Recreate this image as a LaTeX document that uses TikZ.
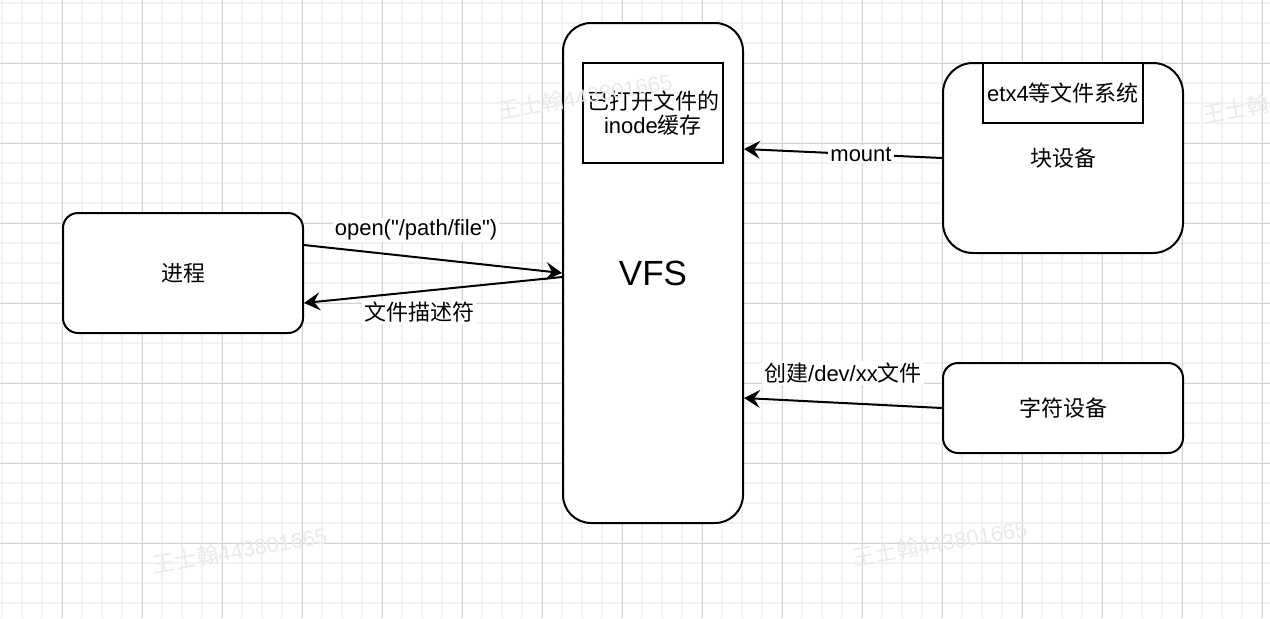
\documentclass[tikz,border=0pt]{standalone}
\usepackage{fontspec}
\setmainfont{Liberation Sans}[Ligatures=TeXOff]
\newfontfamily\cjk{Noto Sans CJK SC}
\usetikzlibrary{arrows.meta}
\definecolor{minorgrid}{HTML}{F2F2F2}
\definecolor{majorgrid}{HTML}{D2D2D2}
\definecolor{wmcolor}{HTML}{EAEAEA}
\begin{document}
\begin{tikzpicture}[x=0.5pt,y=-0.5pt,
  every node/.style={font=\fontsize{11pt}{12pt}\selectfont},
  rbox/.style={draw, line width=1pt, fill=white, inner sep=0pt, align=center},
  sbox/.style={draw, line width=1pt, fill=white, inner sep=0pt, align=center},
  arr/.style={line width=1pt, -{Stealth[length=8pt,width=9pt,inset=3pt]}},
  lbl/.style={fill=white, inner sep=1pt},
  wm/.style={text=wmcolor, rotate=10, font=\fontsize{11pt}{12pt}\selectfont}]
\useasboundingbox (0,0) rectangle (1270,618);
\fill[white] (0,0) rectangle (1270,618);
% grid
\foreach \x in {2,22,...,1270} \draw[minorgrid, line width=0.7pt] (\x,0) -- (\x,618);
\foreach \y in {3,23,...,618} \draw[minorgrid, line width=0.7pt] (0,\y) -- (1270,\y);
\foreach \x in {62,142,...,1270} \draw[majorgrid, line width=0.5pt] (\x,0) -- (\x,618);
\foreach \y in {63,143,...,618} \draw[majorgrid, line width=0.5pt] (0,\y) -- (1270,\y);
% nodes
\node[rbox, rounded corners=7.5pt, minimum width=120pt, minimum height=60pt] (proc) at (183,273) {\cjk 进程};
\node[rbox, rounded corners=14pt, minimum width=90pt, minimum height=250pt, font=\fontsize{17.5pt}{20pt}\selectfont] (vfs) at (653,273) {VFS};
\node[sbox, minimum width=70pt, minimum height=50pt] (cache) at (653,113) {{\cjk 已打开文件的}\\inode{\cjk 缓存}};
\node[rbox, rounded corners=15pt, minimum width=120pt, minimum height=95pt] (blk) at (1063,158) {\cjk 块设备};
\node[sbox, minimum width=80pt, minimum height=30pt] (ext) at (1063,93) {etx4{\cjk 等文件系统}};
\node[rbox, rounded corners=7.5pt, minimum width=120pt, minimum height=45pt] (chr) at (1063,408) {\cjk 字符设备};
% watermarks
\node[wm] (wm1) at (240,550) {{\cjk 王士翰}443801665};
\node[wm] (wm2) at (940,543) {{\cjk 王士翰}443801665};
\node[wm] (wm3) at (585,96) {{\cjk 王士翰}443801665};
\node[wm] (wm4) at (1290,100) {{\cjk 王士翰}443801665};
% connectors
\draw[arr] ([yshift=14pt]proc.east) -- (vfs.west);
\draw[arr] ([yshift=-2pt]vfs.west) -- ([yshift=-15pt]proc.east);
\draw[arr] (blk.west) -- ([yshift=62pt]vfs.east);
\draw[arr] (chr.west) -- ([yshift=-62.5pt]vfs.east);
% labels
\node[lbl] (lopen) at (416,230) {open("/path/file")};
\node[lbl] (lfd) at (419,312) {\cjk 文件描述符};
\node[lbl] (lmount) at (861,154) {mount};
\node[lbl] (lcreate) at (843,373) {{\cjk 创建}/dev/xx{\cjk 文件}};
\end{tikzpicture}
\end{document}
